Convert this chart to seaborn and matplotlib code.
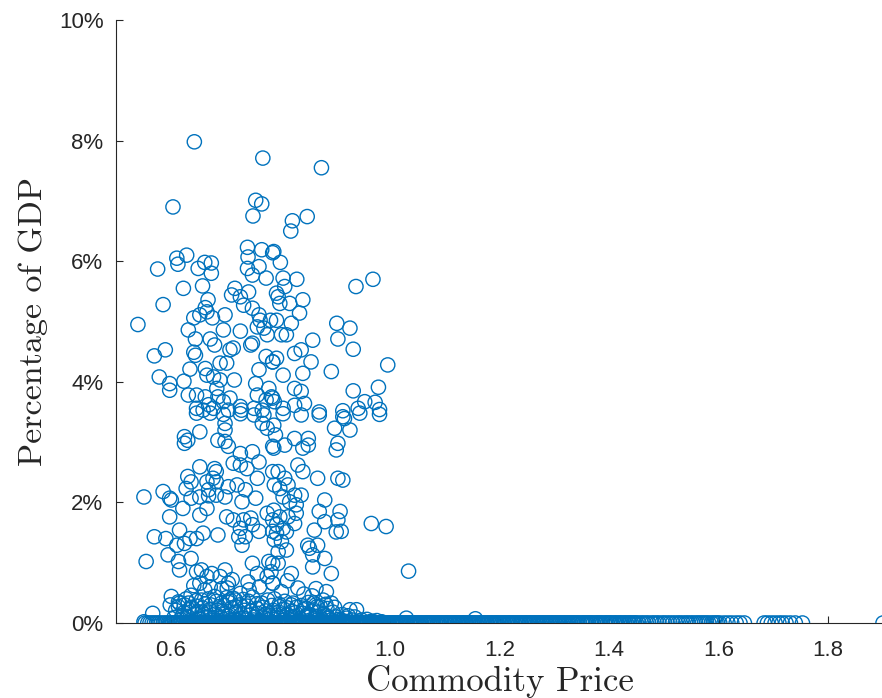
import numpy as np
import pandas as pd
import matplotlib
matplotlib.use("Agg")
import matplotlib.pyplot as plt
import seaborn as sns

# points above zero (commodity price, % of GDP)
price_pos = [0.643, 0.768, 0.604, 0.755, 0.766, 0.750, 0.740, 0.766, 0.741, 0.786, 0.629, 0.611, 0.576, 0.613, 0.662, 0.674, 0.740, 0.761,
             0.875, 0.849, 0.822, 0.819, 0.788, 0.800,
             0.650, 0.674, 0.623, 0.658, 0.586, 0.540, 0.668, 0.663, 0.653, 0.666, 0.642, 0.676, 0.632, 0.645, 0.672, 0.680, 0.699, 0.696,
             0.727, 0.714, 0.708, 0.642, 0.645, 0.570, 0.590, 0.579, 0.598, 0.598, 0.624, 0.635, 0.663, 0.666, 0.690, 0.702, 0.678, 0.690,
             0.684, 0.716, 0.632, 0.647, 0.663, 0.669, 0.686, 0.696, 0.708, 0.647, 0.659, 0.678, 0.705, 0.729,
             0.749, 0.774, 0.717, 0.742, 0.711, 0.727, 0.733, 0.749, 0.761, 0.763, 0.758, 0.770, 0.776, 0.782, 0.746, 0.749, 0.761, 0.774,
             0.786, 0.755, 0.758, 0.774, 0.786, 0.779, 0.727, 0.752, 0.767,
             0.805, 0.830, 0.808, 0.793, 0.796, 0.799, 0.817, 0.841, 0.835, 0.793, 0.820, 0.811, 0.802, 0.859, 0.838, 0.826, 0.793, 0.786,
             0.856, 0.841, 0.805, 0.826, 0.838, 0.844, 0.826, 0.805, 0.784, 0.789,
             0.938, 0.969, 0.903, 0.927, 0.905, 0.933, 0.996, 0.893, 0.933, 0.979, 0.954, 0.973, 0.942, 0.981, 0.914, 0.871,
             0.647, 0.672, 0.696, 0.727, 0.752, 0.770, 0.699, 0.699, 0.653, 0.625, 0.631, 0.625, 0.686, 0.699, 0.705, 0.727, 0.749, 0.761,
             0.714, 0.727, 0.739, 0.767, 0.776, 0.786, 0.653, 0.680, 0.683, 0.677, 0.683, 0.631, 0.637, 0.628, 0.666, 0.669, 0.551, 0.586,
             0.598, 0.601, 0.637, 0.653, 0.669, 0.683, 0.699, 0.705, 0.721, 0.736, 0.758, 0.755, 0.730, 0.786, 0.789, 0.598, 0.622, 0.653,
             0.666, 0.702, 0.714, 0.733, 0.746, 0.749, 0.776, 0.786, 0.570, 0.591, 0.616, 0.635, 0.659, 0.686, 0.727, 0.736, 0.761, 0.786,
             0.805, 0.838, 0.871, 0.914, 0.945, 0.981, 0.788, 0.791, 0.788, 0.808, 0.826, 0.851, 0.851, 0.841, 0.899, 0.927, 0.917, 0.905,
             0.902, 0.796, 0.808, 0.814, 0.832, 0.841, 0.799, 0.805, 0.826, 0.838, 0.817, 0.829, 0.788, 0.799, 0.814, 0.829, 0.793, 0.826,
             0.805, 0.868, 0.905, 0.914, 0.881, 0.871, 0.909, 0.881, 0.905, 0.911, 0.862, 0.966, 0.993,
             0.555, 0.611, 0.625, 0.647, 0.595, 0.614, 0.616, 0.637, 0.647, 0.656, 0.666, 0.675, 0.690, 0.699, 0.705, 0.693, 0.672, 0.653,
             0.724, 0.730, 0.749, 0.758, 0.779, 0.776, 0.786, 0.743, 0.727, 0.718, 0.601, 0.614, 0.625, 0.637, 0.656, 0.680, 0.693, 0.708,
             0.567, 0.551,
             0.793, 0.811, 0.902, 0.789, 0.802, 0.811, 0.796, 0.850, 0.868, 0.853, 0.859, 0.881, 0.786, 0.796, 0.820, 0.783, 0.859, 0.893,
             0.865, 0.786, 1.034, 0.878, 0.893, 0.865, 0.927, 0.939, 0.820, 0.799, 0.847, 1.030, 1.156,
             0.599, 0.614, 0.632, 0.861, 0.873, 0.885,
             0.642, 0.662, 0.703, 0.712, 0.741, 0.762, 0.802, 0.813, 0.832, 0.843, 0.858, 0.884,
             0.621, 0.633, 0.636, 0.644, 0.647, 0.652, 0.657, 0.663, 0.667, 0.671, 0.676, 0.682, 0.688, 0.691, 0.694, 0.702, 0.704, 0.711,
             0.717, 0.719, 0.726, 0.731, 0.734, 0.742, 0.744, 0.751, 0.757, 0.759, 0.766, 0.771, 0.773, 0.781, 0.784, 0.791, 0.797, 0.801,
             0.806, 0.812, 0.816, 0.822, 0.826, 0.829, 0.836, 0.841, 0.846, 0.852, 0.854, 0.862, 0.869, 0.876, 0.884, 0.892, 0.902, 0.911,
             0.921, 0.948, 0.968]
share_pos = [7.98, 7.71, 6.90, 7.01, 6.95, 6.75, 6.23, 6.19, 6.07, 6.14, 6.10, 6.05, 5.87, 5.95, 5.98, 5.97, 5.88, 5.91,
             7.55, 6.74, 6.67, 6.50, 6.16, 5.98,
             5.88, 5.80, 5.55, 5.59, 5.28, 4.95, 5.36, 5.23, 5.11, 5.16, 5.06, 5.06, 4.86, 4.71, 4.71, 4.61, 5.11, 4.86,
             4.84, 4.56, 4.53, 4.49, 4.44, 4.43, 4.53, 4.08, 3.97, 3.86, 4.01, 4.21, 4.22, 4.11, 4.31, 4.31, 4.08, 4.03,
             3.89, 4.03, 3.78, 3.78, 3.75, 3.62, 3.75, 3.67, 3.73, 3.56, 3.53, 3.56, 3.53, 3.53,
             5.77, 5.72, 5.55, 5.49, 5.44, 5.41, 5.27, 5.22, 5.11, 5.02, 4.91, 4.89, 4.78, 5.02, 4.61, 4.64, 4.20, 4.42,
             4.33, 3.97, 3.78, 3.70, 3.73, 3.89, 3.59, 3.56, 3.53,
             5.72, 5.70, 5.58, 5.47, 5.41, 5.30, 5.30, 5.36, 5.14, 5.02, 4.97, 4.78, 4.78, 4.69, 4.53, 4.47, 4.39, 4.33,
             4.33, 4.14, 4.11, 3.89, 3.84, 3.64, 3.61, 3.56, 3.75, 3.67,
             5.58, 5.70, 4.97, 4.89, 4.71, 4.54, 4.28, 4.17, 3.85, 3.91, 3.67, 3.66, 3.56, 3.54, 3.52, 3.50,
             3.48, 3.48, 3.46, 3.47, 3.45, 3.45, 3.31, 3.20, 3.17, 3.09, 3.03, 2.98, 3.03, 3.01, 2.93, 2.81, 2.84, 2.67,
             2.65, 2.62, 2.56, 3.31, 3.23, 2.93, 2.59, 2.56, 2.51, 2.40, 2.34, 2.43, 2.34, 2.23, 2.34, 2.21, 2.09, 2.18,
             2.07, 2.04, 2.07, 2.09, 2.11, 2.12, 2.09, 2.26, 2.29, 2.21, 2.40, 2.07, 2.01, 2.51, 2.29, 1.76, 1.90, 1.79,
             1.90, 1.76, 1.71, 1.71, 1.74, 1.63, 1.82, 1.71, 1.43, 1.40, 1.54, 1.40, 1.49, 1.46, 1.57, 1.43, 1.52, 1.52,
             3.47, 3.45, 3.45, 3.42, 3.48, 3.46, 3.28, 3.12, 2.90, 2.95, 3.06, 3.06, 2.95, 2.90, 3.23, 3.20, 3.39, 2.98,
             2.87, 2.51, 2.40, 2.29, 2.62, 2.51, 2.23, 2.09, 2.12, 2.12, 2.01, 1.96, 1.87, 1.76, 1.76, 1.82, 1.63, 1.65,
             1.57, 2.40, 2.40, 2.37, 2.04, 1.85, 1.85, 1.68, 1.71, 1.52, 1.54, 1.65, 1.60,
             1.02, 1.29, 1.32, 1.40, 1.13, 1.02, 0.88, 1.07, 0.85, 0.88, 0.77, 0.82, 0.77, 0.88, 0.66, 0.57, 0.60, 0.66,
             1.43, 1.29, 0.99, 0.82, 1.02, 0.77, 0.66, 0.55, 0.49, 0.38, 0.44, 0.35, 0.30, 0.46, 0.38, 0.44, 0.33, 0.38,
             0.16, 0.02,
             1.49, 1.51, 1.51, 1.38, 1.35, 1.21, 1.18, 1.29, 1.29, 1.24, 1.13, 1.07, 0.99, 0.99, 0.82, 0.85, 0.93, 0.82,
             0.57, 0.66, 0.86, 0.38, 0.33, 0.30, 0.22, 0.22, 0.30, 0.27, 0.24, 0.08, 0.07,
             0.30, 0.27, 0.33, 0.33, 0.27, 0.24,
             0.62, 0.55, 0.58, 0.72, 0.68, 0.60, 0.52, 0.70, 0.58, 0.48, 0.45, 0.52,
             0.12, 0.22, 0.05, 0.15, 0.28, 0.08, 0.18, 0.32, 0.10, 0.22, 0.04, 0.15, 0.27, 0.09, 0.19, 0.42, 0.12, 0.25,
             0.06, 0.17, 0.30, 0.09, 0.21, 0.36, 0.13, 0.05, 0.24, 0.16, 0.33, 0.08, 0.20, 0.12, 0.29, 0.06, 0.18, 0.10,
             0.23, 0.14, 0.05, 0.19, 0.11, 0.26, 0.07, 0.16, 0.10, 0.04, 0.14, 0.08, 0.18, 0.06, 0.12, 0.05, 0.10, 0.04,
             0.08, 0.05, 0.03]

# the packed cloud just above zero
price_low = [0.606, 0.609, 0.616, 0.618, 0.624, 0.628, 0.631, 0.638, 0.641, 0.646, 0.649, 0.654, 0.658, 0.662, 0.669, 0.673,
             0.678, 0.683, 0.686, 0.692, 0.697, 0.699, 0.706, 0.709, 0.714, 0.718, 0.722, 0.728, 0.732, 0.737, 0.739, 0.747,
             0.749, 0.753, 0.758, 0.762, 0.768, 0.772, 0.777, 0.779, 0.787, 0.789, 0.793, 0.798, 0.803, 0.808, 0.813, 0.818,
             0.823, 0.827, 0.833, 0.838, 0.842, 0.848, 0.851, 0.857, 0.864, 0.867, 0.872, 0.879, 0.883, 0.888, 0.896, 0.899,
             0.906, 0.913, 0.917, 0.924, 0.931, 0.936, 0.944, 0.958, 0.963, 0.976, 0.985]
share_low = [0.09, 0.21, 0.33, 0.06, 0.17, 0.40, 0.11, 0.26, 0.03, 0.37, 0.19, 0.06, 0.25, 0.14, 0.40, 0.30,
             0.09, 0.36, 0.21, 0.03, 0.29, 0.15, 0.34, 0.05, 0.41, 0.27, 0.04, 0.14, 0.39, 0.07, 0.28, 0.20,
             0.43, 0.10, 0.32, 0.04, 0.26, 0.14, 0.38, 0.05, 0.21, 0.40, 0.13, 0.31, 0.04, 0.36, 0.25, 0.09,
             0.33, 0.17, 0.03, 0.29, 0.22, 0.13, 0.34, 0.20, 0.11, 0.27, 0.03, 0.15, 0.31, 0.08, 0.18, 0.26,
             0.06, 0.14, 0.03, 0.12, 0.05, 0.10, 0.03, 0.06, 0.02, 0.04, 0.02]

# points sitting on zero
price_zero = [0.553, 0.587, 0.601, 0.612, 0.619, 0.627, 0.634, 0.642, 0.648, 0.655, 0.661, 0.668, 0.674, 0.681, 0.687, 0.694,
              0.701, 0.707, 0.713, 0.720, 0.727, 0.733, 0.740, 0.746, 0.752, 0.759, 0.765, 0.772, 0.778, 0.785, 0.791, 0.798,
              0.804, 0.811, 0.817, 0.824, 0.830, 0.837, 0.843, 0.850, 0.856, 0.863, 0.869, 0.876, 0.882, 0.889, 0.895, 0.902,
              0.908, 0.915, 0.921, 0.928, 0.934, 0.941, 0.947, 0.954, 0.960, 0.967, 0.973, 0.980, 0.986, 0.993, 0.999, 1.006,
              1.012, 1.019, 1.025, 1.032, 1.039, 1.046, 1.053, 1.061, 1.068, 1.075, 1.083, 1.090, 1.098, 1.105, 1.113, 1.120,
              1.128, 1.135, 1.143, 1.150, 1.158, 1.166, 1.173, 1.181, 1.189, 1.196, 1.204, 1.212, 1.219, 1.227, 1.235, 1.243,
              1.250, 1.258, 1.266, 1.274, 1.282, 1.290, 1.298, 1.306, 1.314, 1.322, 1.330, 1.338, 1.346, 1.355, 1.363, 1.371,
              1.380, 1.388, 1.397, 1.405, 1.414, 1.423, 1.432, 1.441, 1.450, 1.459, 1.468, 1.478, 1.487, 1.497, 1.506, 1.516,
              1.526, 1.535, 1.544, 1.553, 1.562, 1.570, 1.578, 1.587, 1.595, 1.602, 1.610, 1.617, 1.624, 1.632, 1.639, 1.647,
              1.683, 1.689, 1.696, 1.703, 1.710, 1.716, 1.723, 1.731, 1.740, 1.753, 1.900,
              0.558, 0.562, 0.566, 0.570, 0.574, 0.578, 0.582, 0.591, 0.595, 0.598, 0.604, 0.607, 0.610, 0.615, 0.617, 0.622,
              0.624, 0.630, 0.632, 0.637, 0.639, 0.644, 0.646, 0.651, 0.653, 0.657, 0.659, 0.664, 0.666, 0.670, 0.672, 0.677,
              0.679, 0.684, 0.686, 0.690, 0.692, 0.697, 0.699, 0.703, 0.705, 0.709, 0.711, 0.716, 0.718, 0.723, 0.725, 0.729,
              0.731, 0.736, 0.738, 0.742, 0.744, 0.748, 0.750, 0.755, 0.757, 0.761, 0.763, 0.768, 0.770, 0.774, 0.776, 0.781,
              0.783, 0.787, 0.789, 0.794, 0.796, 0.800, 0.802, 0.807, 0.809, 0.813, 0.815, 0.820, 0.822, 0.826, 0.828, 0.833,
              0.835, 0.839, 0.841, 0.846, 0.848, 0.852, 0.854, 0.859, 0.861, 0.865, 0.867, 0.872, 0.874, 0.878, 0.880, 0.885,
              0.887, 0.891, 0.893, 0.898, 0.900, 0.904, 0.906, 0.911, 0.913, 0.917, 0.919, 0.924, 0.926, 0.930, 0.932, 0.937,
              0.939, 0.943, 0.945, 0.950, 0.952, 0.956, 0.958, 0.963, 0.965, 0.969, 0.971, 0.976, 0.978, 0.982, 0.984, 0.989,
              0.991, 0.995, 0.997, 1.002, 1.004, 1.008, 1.010, 1.015, 1.017, 1.021, 1.023, 1.028, 1.030, 1.035, 1.037, 1.042,
              1.044, 1.049, 1.051, 1.056, 1.058, 1.064, 1.066, 1.071, 1.073, 1.078, 1.080, 1.086, 1.088, 1.093, 1.095, 1.101,
              1.103, 1.108, 1.110, 1.116, 1.118, 1.123, 1.125, 1.131, 1.133, 1.138, 1.140, 1.146, 1.148, 1.153, 1.155, 1.161,
              1.163, 1.168, 1.170, 1.176, 1.178, 1.184, 1.186, 1.192, 1.194, 1.199, 1.201, 1.207, 1.209, 1.215, 1.217, 1.222,
              1.224, 1.230, 1.232, 1.238, 1.240, 1.246, 1.248, 1.253, 1.255, 1.261, 1.263, 1.269, 1.271, 1.277, 1.279, 1.285,
              1.287, 1.293, 1.295, 1.301, 1.303, 1.309, 1.311, 1.317, 1.319, 1.325, 1.327, 1.333, 1.335, 1.341, 1.343, 1.350,
              1.352, 1.358, 1.360, 1.366, 1.368, 1.375, 1.377, 1.383, 1.385, 1.392, 1.394, 1.400, 1.402, 1.409, 1.411, 1.418,
              1.420, 1.427, 1.429, 1.436, 1.438, 1.445, 1.447, 1.454, 1.463, 1.472, 1.482, 1.491, 1.501, 1.511, 1.521, 1.530,
              1.540, 1.549, 1.558, 1.566, 1.574, 1.582, 1.591, 1.598]

yticks = [0, 2, 4, 6, 8, 10]
ytick_labels = ["0%", "2%", "4%", "6%", "8%", "10%"]
xticks = [0.6, 0.8, 1.0, 1.2, 1.4, 1.6, 1.8]
xtick_labels = ["0.6", "0.8", "1.0", "1.2", "1.4", "1.6", "1.8"]

df = pd.DataFrame({"price": list(price_pos) + list(price_low) + list(price_zero),
                   "share": list(share_pos) + list(share_low) + [0.0] * len(price_zero)})

sns.set_style("ticks")
plt.rcParams["font.family"] = ["Liberation Sans", "DejaVu Sans"]

fig = plt.figure(figsize=(8.82, 6.98), dpi=100)
ax = fig.add_axes([116 / 882, 75 / 698, 767 / 882, 603 / 698])

sns.scatterplot(data=df, x="price", y="share", ax=ax, marker="o", s=105,
                facecolors="none", edgecolor="#0072BD", linewidth=1.0, zorder=3)

ax.set_xlim(0.5, 1.9)
ax.set_ylim(0, 10)
ax.set_xticks(xticks)
ax.set_xticklabels(xtick_labels)
ax.set_yticks(yticks)
ax.set_yticklabels(ytick_labels)
ax.tick_params(direction="in", length=5, width=0.8, labelsize=16, colors="#262626", pad=9)
ax.tick_params(axis="x", pad=12)
for s in ["top", "right"]:
    ax.spines[s].set_visible(False)
for s in ["left", "bottom"]:
    ax.spines[s].set_color("#262626")
    ax.spines[s].set_linewidth(0.8)

ax.set_xlabel("Commodity Price", fontfamily="cmr10", fontsize=25, color="#262626", labelpad=3)
ax.set_ylabel("Percentage of GDP", fontfamily="cmr10", fontsize=24.5, color="#262626", labelpad=8)

fig.savefig("out.png", dpi=100)
